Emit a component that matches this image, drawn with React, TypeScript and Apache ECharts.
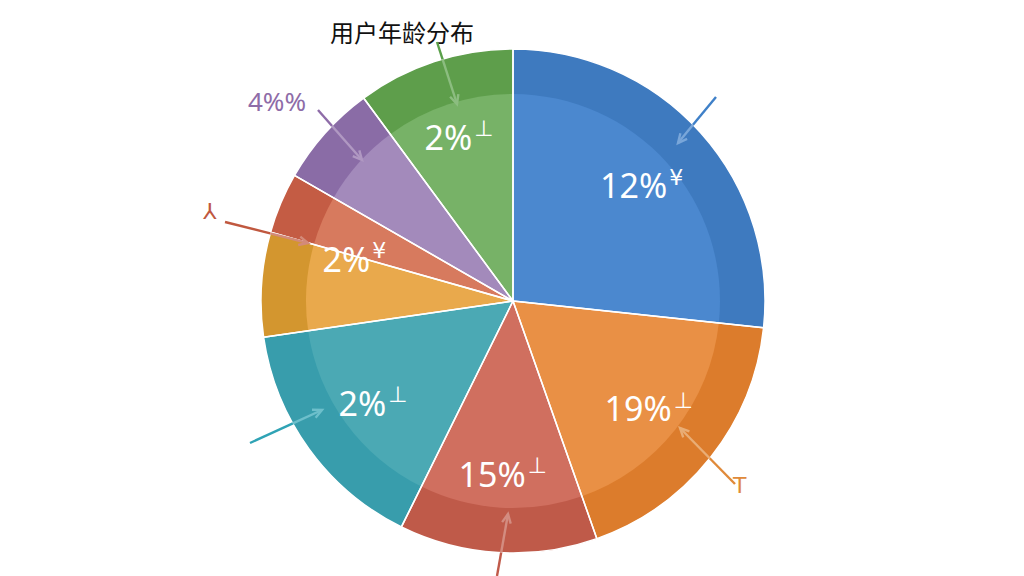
import { useEffect, useRef } from "react";
import * as echarts from "echarts";

// slice shares, clockwise from 12 o'clock
const shares = [26.7, 17.9, 12.7, 15.4, 6.7, 3.9, 6.6, 10.1];
const sliceNames = ["蓝", "橙", "红", "青", "黄", "橘红", "紫", "绿"];
const innerColors = ["#4b88cf", "#e99045", "#d06f5f", "#4ba9b4", "#e9a94c", "#d77a5e", "#a38abb", "#77b267"];
const outerColors = ["#3e7abf", "#dc7c2c", "#bf5a49", "#389dac", "#d3962f", "#c45c44", "#8a6ca6", "#5e9e4b"];
const labelMain = ["12%", "19%", "15%", "2%", "2%", "", "", "2%"];
const labelSup = ["¥", "⊥", "⊥", "⊥", "¥", "", "", "⊥"];

const titleText = "用户年龄分布";

const CX = 513;
const CY = 301;
const R = 252;

function lighten(hex: string, t: number) {
  const n = parseInt(hex.slice(1), 16);
  const ch = [(n >> 16) & 255, (n >> 8) & 255, n & 255].map(c => Math.round(c + (255 - c) * t));
  return `rgb(${ch.join(",")})`;
}

// annotation arrow: saturated outside the pie, lighter where it crosses it
function arrow(x1: number, y1: number, x2: number, y2: number, color: string) {
  const a = Math.atan2(y2 - y1, x2 - x1);
  const h = 10;
  const p1 = [x2 - h * Math.cos(a - 0.45), y2 - h * Math.sin(a - 0.45)];
  const p2 = [x2 - h * Math.cos(a + 0.45), y2 - h * Math.sin(a + 0.45)];
  // find where the segment enters the circle
  let tIn = 1;
  for (let t = 0; t <= 1; t += 0.005) {
    const x = x1 + (x2 - x1) * t;
    const y = y1 + (y2 - y1) * t;
    if (Math.hypot(x - CX, y - CY) < R) { tIn = t; break; }
  }
  const mx = x1 + (x2 - x1) * tIn;
  const my = y1 + (y2 - y1) * tIn;
  const inner = lighten(color, 0.3);
  return [
    { type: "line", shape: { x1, y1, x2: mx, y2: my }, style: { stroke: color, lineWidth: 2.4 }, z: 100 },
    { type: "line", shape: { x1: mx, y1: my, x2, y2 }, style: { stroke: inner, lineWidth: 2.4 }, z: 100 },
    { type: "polyline", shape: { points: [p1, [x2, y2], p2] }, style: { stroke: tIn < 1 ? inner : color, lineWidth: 2.4, fill: null }, z: 100 },
  ];
}

export default function App() {
  const ref = useRef<HTMLDivElement>(null);

  useEffect(() => {
    if (!ref.current) return;
    const chart = echarts.init(ref.current, null, { renderer: "svg" });

    const base = {
      type: "pie",
      center: [CX, CY],
      startAngle: 90,
      clockwise: true,
      silent: true,
      label: { show: false },
      labelLine: { show: false },
      emphasis: { disabled: true },
    };

    chart.setOption({
      animation: false,
      backgroundColor: "#ffffff",
      title: {
        text: titleText,
        left: 325,
        top: 14,
        textStyle: { color: "#111", fontSize: 24, fontWeight: "normal", fontFamily: "Noto Sans CJK SC" },
      },
      series: [
        {
          ...base,
          radius: [0, R],
          data: shares.map((v, i) => ({ value: v, name: sliceNames[i], itemStyle: { color: outerColors[i] } })),
        },
        {
          ...base,
          radius: [0, 207],
          data: shares.map((v, i) => ({ value: v, name: sliceNames[i], itemStyle: { color: innerColors[i] } })),
        },
        {
          ...base,
          radius: [0, R],
          itemStyle: { color: "rgba(0,0,0,0)", borderColor: "#ffffff", borderWidth: 1.5 },
          data: shares.map((v, i) => ({ value: v, name: sliceNames[i] })),
        },
        {
          ...base,
          radius: [130, 210],
          itemStyle: { color: "rgba(0,0,0,0)" },
          label: {
            show: true,
            position: "inside",
            color: "#fff",
            fontFamily: "Noto Sans",
            formatter: (p: any) => (labelMain[p.dataIndex] ? `{a|${labelMain[p.dataIndex]}}{b|${labelSup[p.dataIndex]}}` : ""),
            rich: {
              a: { color: "#fff", fontSize: 34, fontFamily: "Noto Sans" },
              b: { color: "#fff", fontSize: 22, fontFamily: "DejaVu Sans", padding: [0, 0, 16, 2] },
            },
          },
          data: shares.map((v, i) => ({
            value: v,
            name: sliceNames[i],
            label: i === 4 ? { offset: [14, -31] } : undefined,
          })),
        },
      ],
      graphic: {
        elements: [
          { type: "text", left: 248, top: 88, style: { text: "4%%", fill: "#8e6ca8", fontSize: 26, fontFamily: "Noto Sans" }, z: 100 },
          { type: "text", left: 203, top: 200, style: { text: "⅄", fill: "#c0583f", fontSize: 22, fontFamily: "DejaVu Sans" }, z: 100 },
          { type: "text", left: 733, top: 474, style: { text: "T", fill: "#e08a3a", fontSize: 22, fontFamily: "DejaVu Sans" }, z: 100 },
          ...arrow(437, 42, 457, 104, "#5aa04a"),
          ...arrow(318, 110, 362, 160, "#8e6ca8"),
          ...arrow(225, 222, 308, 243, "#c0583f"),
          ...arrow(716, 97, 678, 143, "#3f80c8"),
          ...arrow(735, 484, 680, 428, "#e08a3a"),
          ...arrow(497, 576, 508, 514, "#c05a4a"),
          ...arrow(250, 443, 322, 410, "#2fa3b5"),
        ],
      },
    });

    return () => chart.dispose();
  }, []);

  return <div ref={ref} style={{ position: "fixed", left: 0, top: 0, width: 1024, height: 576 }} />;
}
